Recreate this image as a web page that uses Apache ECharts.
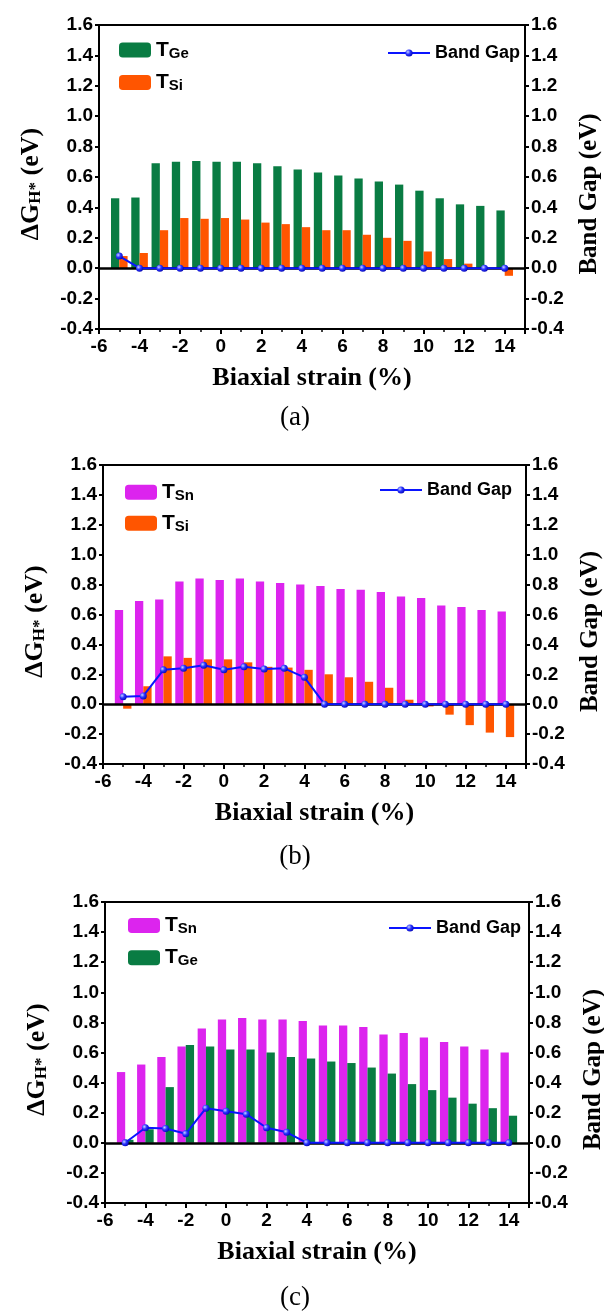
<!DOCTYPE html>
<html>
<head>
<meta charset="utf-8">
<script src="https://cdn.jsdelivr.net/npm/echarts@6/dist/echarts.min.js"></script>
<style>
  html, body { margin: 0; padding: 0; background: #fff; }
  #chart { width: 604px; height: 1313px; }
</style>
</head>
<body>
<div id="chart"></div>
<script>
  // strain values (%) shared by all three panels
  const strain = [-5, -4, -3, -2, -1, 0, 1, 2, 3, 4, 5, 6, 7, 8, 9, 10, 11, 12, 13, 14];

  // (a) T_Ge / T_Si
  const tGeA = [0.46, 0.465, 0.69, 0.70, 0.705, 0.70, 0.70, 0.69, 0.67, 0.65, 0.63, 0.61, 0.59, 0.57, 0.55, 0.51, 0.46, 0.42, 0.41, 0.38];
  const tSiA = [0.08, 0.10, 0.25, 0.33, 0.325, 0.33, 0.32, 0.30, 0.29, 0.27, 0.25, 0.25, 0.22, 0.20, 0.18, 0.11, 0.06, 0.03, 0.0, -0.05];
  const gapA = [0.08, 0, 0, 0, 0, 0, 0, 0, 0, 0, 0, 0, 0, 0, 0, 0, 0, 0, 0, 0];

  // (b) T_Sn / T_Si
  const tSnB = [0.63, 0.69, 0.70, 0.82, 0.84, 0.83, 0.84, 0.82, 0.81, 0.80, 0.79, 0.77, 0.765, 0.75, 0.72, 0.71, 0.66, 0.65, 0.63, 0.62];
  const tSiB = [-0.03, 0.12, 0.32, 0.31, 0.30, 0.30, 0.28, 0.25, 0.245, 0.23, 0.20, 0.18, 0.15, 0.11, 0.03, -0.015, -0.07, -0.14, -0.19, -0.22];
  const gapB = [0.05, 0.055, 0.23, 0.24, 0.26, 0.23, 0.25, 0.235, 0.24, 0.18, 0, 0, 0, 0, 0, 0, 0, 0, 0, 0];

  // (c) T_Sn / T_Ge
  const tSnC = [0.47, 0.52, 0.57, 0.64, 0.76, 0.82, 0.83, 0.82, 0.82, 0.81, 0.78, 0.78, 0.77, 0.72, 0.73, 0.70, 0.67, 0.64, 0.62, 0.60];
  const tGeC = [0.02, 0.09, 0.37, 0.65, 0.64, 0.62, 0.62, 0.60, 0.57, 0.56, 0.54, 0.53, 0.50, 0.46, 0.39, 0.35, 0.30, 0.26, 0.23, 0.18];
  const gapC = [0, 0.10, 0.095, 0.06, 0.23, 0.21, 0.19, 0.10, 0.07, 0, 0, 0, 0, 0, 0, 0, 0, 0, 0, 0];

  const panelLabels = ['(a)', '(b)', '(c)'];

  const GREEN = '#097c43';
  const ORANGE = '#ff5500';
  const MAGENTA = '#dc24ee';
  const BLUE = '#0a14ff';
  const SANS = 'Liberation Sans, Arial, sans-serif';
  const SERIF = 'Liberation Serif, Times New Roman, serif';

  // plot boxes
  const grids = [
    { left: 99, top: 25, width: 426, height: 304 },
    { left: 103, top: 465, width: 423, height: 299 },
    { left: 105, top: 902, width: 424, height: 301 }
  ];

  function pairs(ys) {
    return strain.map(function (x, i) { return [x, ys[i]]; });
  }

  function tickFmt(v) {
    return Math.abs(v) < 1e-9 ? '0.0' : v.toFixed(1);
  }

  const legendRich = {
    t: { fontFamily: SANS, fontWeight: 'bold', fontSize: 21, lineHeight: 22, color: '#000' },
    s: { fontFamily: SANS, fontWeight: 'bold', fontSize: 15, lineHeight: 15, verticalAlign: 'bottom', color: '#000' }
  };
  function legendFmt(name) {
    return '{t|T}{s|' + name.slice(1) + '}';
  }

  function makeX(i) {
    return {
      type: 'value', gridIndex: i, min: -6, max: 15, interval: 2,
      axisLine: { onZero: false, lineStyle: { color: '#000', width: 2 } },
      axisTick: { length: 5, lineStyle: { color: '#000', width: 2 } },
      minorTick: { show: true, splitNumber: 2, length: 3, lineStyle: { color: '#000', width: 1.5 } },
      splitLine: { show: false },
      axisLabel: { showMaxLabel: false, margin: 8, color: '#000', fontFamily: SANS, fontWeight: 'bold', fontSize: 19 },
      name: 'Biaxial strain (%)', nameLocation: 'middle', nameGap: 36,
      nameTextStyle: { fontFamily: SERIF, fontWeight: 'bold', fontSize: 26, color: '#000' }
    };
  }

  function makeY(i, side) {
    let y = {
      type: 'value', gridIndex: i, position: side, min: -0.4, max: 1.6, interval: 0.2,
      axisLine: { show: true, onZero: false, lineStyle: { color: '#000', width: 2 } },
      axisTick: { show: true, length: 4, lineStyle: { color: '#000', width: 2 } },
      splitLine: { show: false },
      axisLabel: { formatter: tickFmt, margin: 6, color: '#000', fontFamily: SANS, fontWeight: 'bold', fontSize: 19 },
      nameLocation: 'middle', nameRotate: 90
    };
    if (side === 'left') {
      y.name = '{d|ΔG}{s|H*}{d| (eV)}';
      y.nameGap = 55;
      y.nameTextStyle = {
        padding: [0, 14, 0, 0],
        rich: {
          d: { fontFamily: SERIF, fontWeight: 'bold', fontSize: 26, lineHeight: 26, color: '#000' },
          s: { fontFamily: SERIF, fontWeight: 'bold', fontSize: 17, lineHeight: 19, verticalAlign: 'bottom', color: '#000' }
        }
      };
    } else {
      y.name = 'Band Gap (eV)';
      y.nameGap = 52;
      y.nameTextStyle = { padding: [0, 34, 0, 0], fontFamily: SERIF, fontWeight: 'bold', fontSize: 25, color: '#000' };
    }
    return y;
  }

  function zeroLine() {
    return {
      silent: true, symbol: ['none', 'none'], label: { show: false },
      lineStyle: { color: '#000', width: 2.5, type: 'solid' },
      data: [{ yAxis: 0 }]
    };
  }

  function barSeries(i, name, ys, color, withZero) {
    let s = {
      type: 'bar', name: name, xAxisIndex: i, yAxisIndex: i * 2, data: pairs(ys),
      barWidth: 8.3, barGap: '0%', itemStyle: { color: color }
    };
    if (withZero) s.markLine = zeroLine();
    return s;
  }

  function gapSeries(i, ys) {
    return {
      type: 'line', name: 'Band Gap', xAxisIndex: i, yAxisIndex: i * 2 + 1, data: pairs(ys), z: 5,
      symbol: 'circle', symbolSize: 7,
      lineStyle: { color: BLUE, width: 2 },
      itemStyle: {
        color: {
          type: 'radial', x: 0.35, y: 0.35, r: 0.75,
          colorStops: [{ offset: 0, color: '#c9d0ff' }, { offset: 0.45, color: '#2a35ff' }, { offset: 1, color: '#0000b0' }]
        }
      }
    };
  }

  function drawChart() {
    let myChart = echarts.init(document.getElementById('chart'));

    // left legend boxes: [left, top, gap]
    const barLegendPos = [[119, 39.5, 11], [125, 481.8, 9.5], [128, 915, 10.7]];
    const barLegendData = [['TGe', 'TSi'], ['TSn', 'TSi'], ['TSn', 'TGe']];
    const gapLegendPos = [[387, 44], [379, 481], [388, 919]];
    const labelY = [418, 857, 1298];

    let legends = [];
    let graphics = [];
    for (let i = 0; i < 3; i++) {
      legends.push({
        orient: 'vertical', left: barLegendPos[i][0], top: barLegendPos[i][1], padding: 0,
        itemWidth: 32, itemHeight: 15, itemGap: barLegendPos[i][2],
        data: barLegendData[i], formatter: legendFmt, textStyle: { rich: legendRich },
        selectedMode: false
      });
      legends.push({
        left: gapLegendPos[i][0], top: gapLegendPos[i][1], padding: 0,
        itemWidth: 42, itemHeight: 9, data: ['Band Gap'], selectedMode: false,
        textStyle: { fontFamily: SANS, fontWeight: 'bold', fontSize: 18, color: '#000' }
      });
      graphics.push({
        type: 'text', x: 295, y: labelY[i],
        style: { text: panelLabels[i], align: 'center', verticalAlign: 'middle', fontFamily: SERIF, fontSize: 27, fill: '#000' }
      });
    }

    let option = {
      animation: false,
      grid: grids.map(function (g) {
        return {
          left: g.left, top: g.top, width: g.width, height: g.height, outerBoundsMode: 'none',
          show: true, borderColor: '#000', borderWidth: 2, backgroundColor: 'transparent'
        };
      }),
      xAxis: [makeX(0), makeX(1), makeX(2)],
      yAxis: [makeY(0, 'left'), makeY(0, 'right'), makeY(1, 'left'), makeY(1, 'right'), makeY(2, 'left'), makeY(2, 'right')],
      legend: legends,
      graphic: graphics,
      series: [
        barSeries(0, 'TGe', tGeA, GREEN, true),
        barSeries(0, 'TSi', tSiA, ORANGE, false),
        gapSeries(0, gapA),
        barSeries(1, 'TSn', tSnB, MAGENTA, true),
        barSeries(1, 'TSi', tSiB, ORANGE, false),
        gapSeries(1, gapB),
        barSeries(2, 'TSn', tSnC, MAGENTA, true),
        barSeries(2, 'TGe', tGeC, GREEN, false),
        gapSeries(2, gapC)
      ]
    };
    myChart.setOption(option);
  }

  drawChart();
</script>
</body>
</html>
